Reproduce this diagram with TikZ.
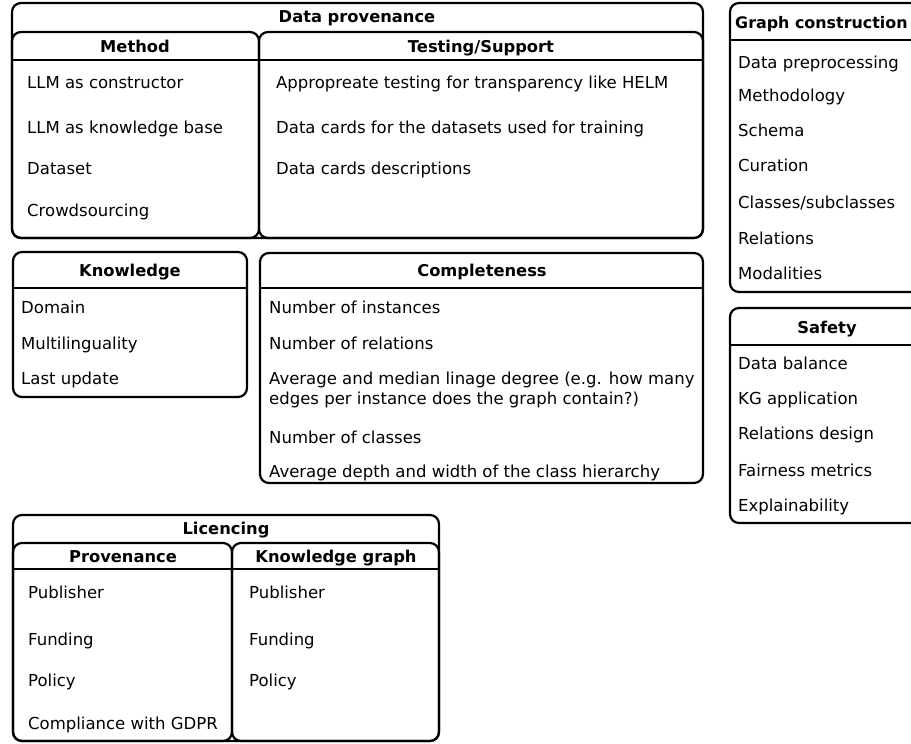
\documentclass[tikz,border=0pt]{standalone}
\usepackage{fontspec}
\setmainfont{DejaVu Sans}
\begin{document}
\begin{tikzpicture}[x=1pt,y=-1pt,
  box/.style={draw, line width=2.2pt, rounded corners=9pt},
  hline/.style={draw, line width=2.2pt},
  txt/.style={inner sep=0pt, text height=12pt, text depth=0pt, font=\fontsize{16.5}{20}\selectfont},
  ttl/.style={txt, anchor=center, font=\fontsize{16.3}{20}\selectfont\bfseries},
  item/.style={txt, anchor=west}]
\clip (0,0) rectangle (911,744);
% Data provenance
\draw[box] (12,3) rectangle (703,238);
\draw[box] (12,32) rectangle (259,238);
\draw[box] (259,32) rectangle (703,238);
\draw[hline] (12,60) -- (259,60);
\draw[hline] (259,60) -- (703,60);
\node[ttl] (dp) at (357,17) {Data provenance};
\node[ttl] (meth) at (135,46) {Method};
\node[ttl] (test) at (481,46) {Testing/Support};
\node[item] (m1) at (27,82) {LLM as constructor};
\node[item] (m2) at (27,127) {LLM as knowledge base};
\node[item] (m3) at (27,168) {Dataset};
\node[item] (m4) at (27,210) {Crowdsourcing};
\node[item] (t1) at (276,82) {Appropreate testing for transparency like HELM};
\node[item] (t2) at (276,127) {Data cards for the datasets used for training};
\node[item] (t3) at (276,168) {Data cards descriptions};
% Knowledge
\draw[box] (13,252) rectangle (247,397);
\draw[hline] (13,288) -- (247,288);
\node[ttl] (kn) at (130,270) {Knowledge};
\node[item] (k1) at (21,307) {Domain};
\node[item] (k2) at (21,343) {Multilinguality};
\node[item] (k3) at (21,378) {Last update};
% Completeness
\draw[box] (260,253) rectangle (703,483);
\draw[hline] (260,288) -- (703,288);
\node[ttl] (co) at (482,270) {Completeness};
\node[item] (c1) at (269,307) {Number of instances};
\node[item] (c2) at (269,343) {Number of relations};
\node[item] (c3a) at (269,378) {Average and median linage degree (e.g. how many};
\node[item] (c3b) at (269,398) {edges per instance does the graph contain?)};
\node[item] (c4) at (269,437) {Number of classes};
\node[item] (c5) at (269,471) {Average depth and width of the class hierarchy};
% Graph construction
\draw[box] (730,3) rectangle (924,292);
\draw[hline] (730,40) -- (924,40);
\node[ttl, anchor=west, font=\fontsize{15.9}{20}\selectfont\bfseries] (gc) at (735,22) {Graph construction};
\node[item] (g1) at (738,62) {Data preprocessing};
\node[item] (g2) at (738,95) {Methodology};
\node[item] (g3) at (738,130) {Schema};
\node[item] (g4) at (738,165) {Curation};
\node[item] (g5) at (738,202) {Classes/subclasses};
\node[item] (g6) at (738,238) {Relations};
\node[item] (g7) at (738,273) {Modalities};
% Safety
\draw[box] (730,308) rectangle (924,523);
\draw[hline] (730,345) -- (924,345);
\node[ttl] (sa) at (827,327) {Safety};
\node[item] (s1) at (738,363) {Data balance};
\node[item] (s2) at (738,398) {KG application};
\node[item] (s3) at (738,433) {Relations design};
\node[item] (s4) at (738,470) {Fairness metrics};
\node[item] (s5) at (738,505) {Explainability};
% Licencing
\draw[box] (13,515) rectangle (439,741);
\draw[box] (13,543) rectangle (232,741);
\draw[box] (232,543) rectangle (439,741);
\draw[hline] (13,569) -- (232,569);
\draw[hline] (232,569) -- (439,569);
\node[ttl] (li) at (226,528) {Licencing};
\node[ttl] (pr) at (123,556) {Provenance};
\node[ttl] (kg) at (336,556) {Knowledge graph};
\node[item] (p1) at (28,592) {Publisher};
\node[item] (p2) at (28,639) {Funding};
\node[item] (p3) at (28,680) {Policy};
\node[item] (p4) at (28,723) {Compliance with GDPR};
\node[item] (q1) at (249,592) {Publisher};
\node[item] (q2) at (249,639) {Funding};
\node[item] (q3) at (249,680) {Policy};
\end{tikzpicture}
\end{document}
